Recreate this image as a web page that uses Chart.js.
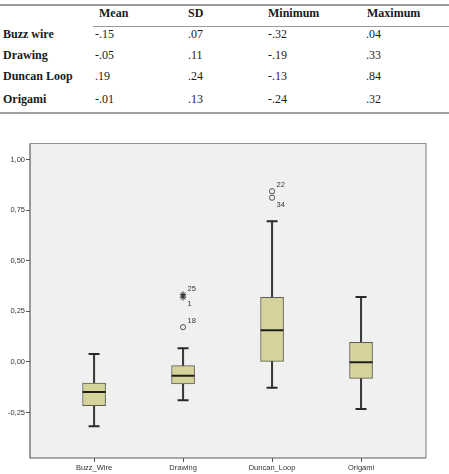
<!DOCTYPE html>
<html>
<head>
<meta charset="utf-8">
<script src="https://cdn.jsdelivr.net/npm/chart.js@4.4.1/dist/chart.umd.min.js"></script>
<style>
  html, body { margin:0; padding:0; background:#fff; width:449px; height:474px; overflow:hidden; }
  #tbl { position:absolute; left:0; top:0; width:449px; height:120px; font-family:"Liberation Serif","Times New Roman",serif; font-size:12px; color:#1a1a1a; }
  #tbl .c { position:absolute; line-height:16px; white-space:nowrap; }
  #tbl .b { font-weight:bold; }
  .hl { position:absolute; height:0; }
  #wrap { position:absolute; left:0; top:130px; width:449px; height:344px; }
</style>
</head>
<body>
<div id="tbl"></div>
<div id="wrap"><canvas id="c"></canvas></div>
<script>
// ---- table data ----
const tableRows = ['Buzz wire', 'Drawing', 'Duncan Loop', 'Origami'];
const tableCols = ['Mean', 'SD', 'Minimum', 'Maximum'];
const means = ['-.15', '-.05', '.19', '-.01'];
const sds   = ['.07', '.11', '.24', '.13'];
const mins  = ['-.32', '-.19', '-.13', '-.24'];
const maxs  = ['.04', '.33', '.84', '.32'];

// ---- box plot data ----
const categories = ['Buzz_Wire', 'Drawing', 'Duncan_Loop', 'Origami'];
const whiskerLow  = [-0.318, -0.190, -0.128, -0.233];
const q1          = [-0.216, -0.109,  0.000, -0.081];
const medians     = [-0.149, -0.068,  0.157, -0.002];
const q3          = [-0.104, -0.018,  0.319,  0.097];
const whiskerHigh = [ 0.039,  0.068,  0.696,  0.321];
// outliers (circles) and extremes (stars)
const outlierCat = [1, 2, 2];
const outlierVal = [0.172, 0.844, 0.812];
const outlierIds = ['18', '22', '34'];
const extremeCat = [1, 1];
const extremeVal = [0.333, 0.320];
const extremeIds = ['25', '1'];
const yTicks = [-0.25, 0, 0.25, 0.5, 0.75, 1.0];

// ---- build table ----
(function(){
  const t = document.getElementById('tbl');
  const headX = [99, 188, 268, 367];
  const valX  = [95, 188, 268, 366];
  const rowY  = [34, 54.5, 76, 99];
  function put(txt, x, yc, bold){
    const d = document.createElement('div');
    d.className = 'c' + (bold ? ' b' : '');
    d.textContent = txt;
    d.style.left = x + 'px';
    d.style.top = (yc - 8) + 'px';
    t.appendChild(d);
  }
  function line(x, y, w, h, col){
    const d = document.createElement('div');
    d.className = 'hl';
    d.style.left = x + 'px'; d.style.top = y + 'px'; d.style.width = w + 'px';
    d.style.borderTop = h + 'px solid ' + col;
    t.appendChild(d);
  }
  line(0, 4, 449, 2, '#9a9a9a');
  line(93, 25.5, 356, 1, '#9a9a9a');
  line(0, 112, 449, 2, '#a0a0a0');
  tableCols.forEach((c, i) => put(c, headX[i], 13, true));
  const cols = [means, sds, mins, maxs];
  tableRows.forEach((r, j) => {
    put(r, 3, rowY[j], true);
    cols.forEach((arr, i) => put(arr[j], valX[i], rowY[j], false));
  });
})();

// ---- chart ----
const labelSide = {'18':'up', '22':'up', '34':'down', '25':'up', '1':'down'};

const framePlugin = {
  id: 'frame',
  beforeDraw(chart){
    const {ctx, chartArea:a} = chart;
    ctx.save();
    ctx.fillStyle = '#f0f0f0';
    ctx.fillRect(a.left, a.top, a.right - a.left, a.bottom - a.top);
    ctx.restore();
  },
  beforeDatasetsDraw(chart){
    const {ctx, chartArea:a} = chart;
    ctx.save();
    ctx.lineWidth = 1.2;
    ctx.strokeStyle = '#8f8f8f';
    ctx.beginPath();
    ctx.moveTo(a.left, a.top); ctx.lineTo(a.right, a.top); ctx.lineTo(a.right, a.bottom);
    ctx.stroke();
    ctx.strokeStyle = '#5a5a5a';
    ctx.beginPath();
    ctx.moveTo(a.left, a.top); ctx.lineTo(a.left, a.bottom); ctx.lineTo(a.right, a.bottom);
    ctx.stroke();
    ctx.restore();
  },
  afterDatasetsDraw(chart){
    const ctx = chart.ctx;
    ctx.save();
    ctx.font = '7.5px "Liberation Sans", Arial, sans-serif';
    ctx.fillStyle = '#333';
    ctx.textBaseline = 'middle';
    ctx.textAlign = 'left';
    chart.data.datasets.forEach((ds, di) => {
      if (!ds.ids) return;
      const meta = chart.getDatasetMeta(di);
      meta.data.forEach((el, k) => {
        const id = ds.ids[k];
        const up = labelSide[id] === 'up';
        ctx.fillText(id, el.x + 4.5, el.y + (up ? -6 : 7));
      });
    });
    ctx.restore();
  }
};

const boxData = categories.map((c, i) => ({x: i, y: [q1[i], q3[i]]}));
const whiskerData = categories.map((c, i) => ({x: i, y: [whiskerLow[i], whiskerHigh[i]]}));
const medianData = categories.map((c, i) => ({x: i, y: medians[i]}));
const capData = categories.flatMap((c, i) => [{x: i, y: whiskerLow[i]}, {x: i, y: whiskerHigh[i]}]);
const outData = outlierCat.map((c, i) => ({x: c, y: outlierVal[i]}));
const extData = extremeCat.map((c, i) => ({x: c, y: extremeVal[i]}));

new Chart(document.getElementById('c'), {
  type: 'bar',
  data: {
    datasets: [
      { type:'bar', data: whiskerData, backgroundColor:'#3a3a3a', borderWidth:0, barThickness:1.4, grouped:false, order:5 },
      { type:'bar', data: boxData, backgroundColor:'#d6d29b', borderColor:'#5c5c52', borderWidth:1, borderSkipped:false, barThickness:23, grouped:false, order:4 },
      { type:'scatter', data: medianData, pointStyle:'line', radius:11.5, borderWidth:2, borderColor:'#1e1e1e', order:3 },
      { type:'scatter', data: capData, pointStyle:'line', radius:5.5, borderWidth:2, borderColor:'#2a2a2a', order:2 },
      { type:'scatter', data: outData, ids: outlierIds, pointStyle:'circle', radius:2.6, borderWidth:1, borderColor:'#555', backgroundColor:'rgba(0,0,0,0)', order:1 },
      { type:'scatter', data: extData, ids: extremeIds, pointStyle:'star', radius:3.2, borderWidth:1, borderColor:'#333', order:1 }
    ]
  },
  options: {
    responsive: true,
    maintainAspectRatio: false,
    animation: false,
    events: [],
    layout: { padding: { top: 8, right: 23, bottom: 0, left: 0 } },
    plugins: { legend: { display:false }, tooltip: { enabled:false } },
    scales: {
      x: {
        type: 'linear',
        min: -0.72, max: 3.73,
        offset: false,
        afterBuildTicks: s => { s.ticks = categories.map((c, i) => ({value: i})); },
        afterFit: s => { s.height = 16; },
        ticks: { callback: v => categories[v], padding: 1, color:'#333', font:{ family:'"Liberation Sans", Arial, sans-serif', size:7.5 }, maxRotation:0, autoSkip:false },
        grid: { display:true, offset:false, drawOnChartArea:false, drawTicks:true, tickLength:4, color:'#555', lineWidth:1 },
        border: { display:false }
      },
      y: {
        type: 'linear',
        min: -0.475, max: 1.08,
        afterBuildTicks: s => { s.ticks = yTicks.map(v => ({value: v})); },
        afterFit: s => { s.width = 30; },
        ticks: { callback: v => v.toFixed(2).replace('.', ','), padding: 1, color:'#333', font:{ family:'"Liberation Sans", Arial, sans-serif', size:7.5 } },
        grid: { display:true, offset:false, drawOnChartArea:false, drawTicks:true, tickLength:4, color:'#555', lineWidth:1 },
        border: { display:false }
      }
    }
  },
  plugins: [framePlugin]
});
</script>
</body>
</html>
